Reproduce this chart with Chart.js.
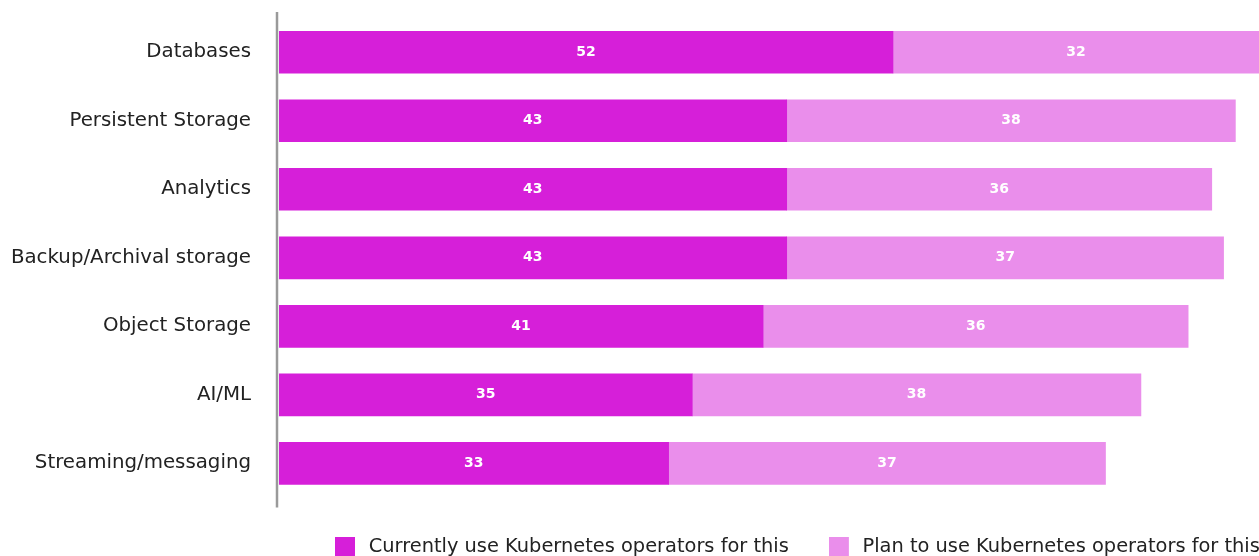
<!DOCTYPE html>
<html>
<head>
<meta charset="utf-8">
<script src="https://cdn.jsdelivr.net/npm/chart.js@4.4.1/dist/chart.umd.min.js"></script>
<style>
  html, body { margin: 0; padding: 0; background: #fff; overflow: hidden; }
  #wrap { width: 1259px; height: 567px; position: relative; }
</style>
</head>
<body>
<div id="wrap"><canvas id="myChart"></canvas></div>
<script>
'use strict';
let categories = ['Databases', 'Persistent Storage', 'Analytics', 'Backup/Archival storage', 'Object Storage', 'AI/ML', 'Streaming/messaging'];
let currentlyUse = [52, 43, 43, 43, 41, 35, 33];
let planToUse = [32, 38, 36, 37, 36, 38, 37];
let seriesNames = ['Currently use Kubernetes operators for this', 'Plan to use Kubernetes operators for this'];

let darkPink = '#d61fd9';
let lightPink = '#ea8eeb';
let fontName = '"DejaVu Sans", sans-serif';

// legend icon: 20px square with some room on its right before the text
function legendIcon(color) {
  let c = document.createElement('canvas');
  c.width = 24;
  c.height = 20;
  let g = c.getContext('2d');
  g.fillStyle = color;
  g.fillRect(0, 0, 20, 20);
  return c;
}
let legendIcons = [legendIcon(darkPink), legendIcon(lightPink)];

// grey line on the left of the bars, a bit taller than the plot
let axisLine = {
  id: 'axisLine',
  afterDatasetsDraw(chart) {
    let ctx = chart.ctx;
    let area = chart.chartArea;
    ctx.save();
    ctx.strokeStyle = '#9a9a9a';
    ctx.lineWidth = 2.5;
    ctx.beginPath();
    ctx.moveTo(area.left - 2, area.top - 6);
    ctx.lineTo(area.left - 2, area.bottom + 10);
    ctx.stroke();
    ctx.restore();
  }
};

// white numbers in the middle of every (visible) segment
let barValues = {
  id: 'barValues',
  afterDatasetsDraw(chart) {
    let ctx = chart.ctx;
    let area = chart.chartArea;
    ctx.save();
    ctx.fillStyle = '#ffffff';
    ctx.font = 'bold 14px ' + fontName;
    ctx.textAlign = 'center';
    ctx.textBaseline = 'middle';
    chart.data.datasets.forEach((ds, i) => {
      chart.getDatasetMeta(i).data.forEach((bar, j) => {
        let left = Math.max(bar.base, area.left);
        let right = Math.min(bar.x, area.right);
        ctx.fillText(ds.data[j], (left + right) / 2, bar.y);
      });
    });
    ctx.restore();
  }
};

// legend starts a little to the right of the bars' left edge
let legendShift = {
  id: 'legendShift',
  afterLayout(chart) {
    let shift = chart.chartArea.left + 16 - chart.legend.left;
    chart.legend.left += shift;
    chart.legend.right += shift;
  }
};

let ctx = document.getElementById('myChart').getContext('2d');
let myChart = new Chart(ctx, {
  type: 'bar',
  data: {
    labels: categories,
    datasets: [{
      label: seriesNames[0],
      data: currentlyUse,
      backgroundColor: darkPink,
      barThickness: 42
    },
    {
      label: seriesNames[1],
      data: planToUse,
      backgroundColor: lightPink,
      barThickness: 42
    }]
  },
  options: {
    indexAxis: 'y',
    responsive: true,
    maintainAspectRatio: false,
    animation: false,
    layout: {
      padding: { top: 18, left: 0, right: 0, bottom: 0 }
    },
    scales: {
      x: {
        stacked: true,
        display: false,
        min: 0,
        max: 83
      },
      y: {
        stacked: true,
        grid: { display: false, drawTicks: false },
        border: { display: false },
        ticks: {
          padding: 28,
          color: '#222222',
          font: { family: fontName, size: 19.8 }
        },
        afterFit(scale) {
          scale.width = 279;
          scale.paddingTop = 0;
          scale.paddingBottom = 0;
        }
      }
    },
    plugins: {
      legend: {
        position: 'bottom',
        align: 'start',
        labels: {
          usePointStyle: true,
          pointStyleWidth: 24,
          padding: 40,
          color: '#222222',
          font: { family: fontName, size: 19.4 },
          generateLabels(chart) {
            let items = Chart.defaults.plugins.legend.labels.generateLabels(chart);
            items.forEach((item, i) => { item.pointStyle = legendIcons[i]; });
            return items;
          }
        }
      },
      tooltip: { enabled: false }
    }
  },
  plugins: [axisLine, barValues, legendShift]
});
</script>
</body>
</html>
